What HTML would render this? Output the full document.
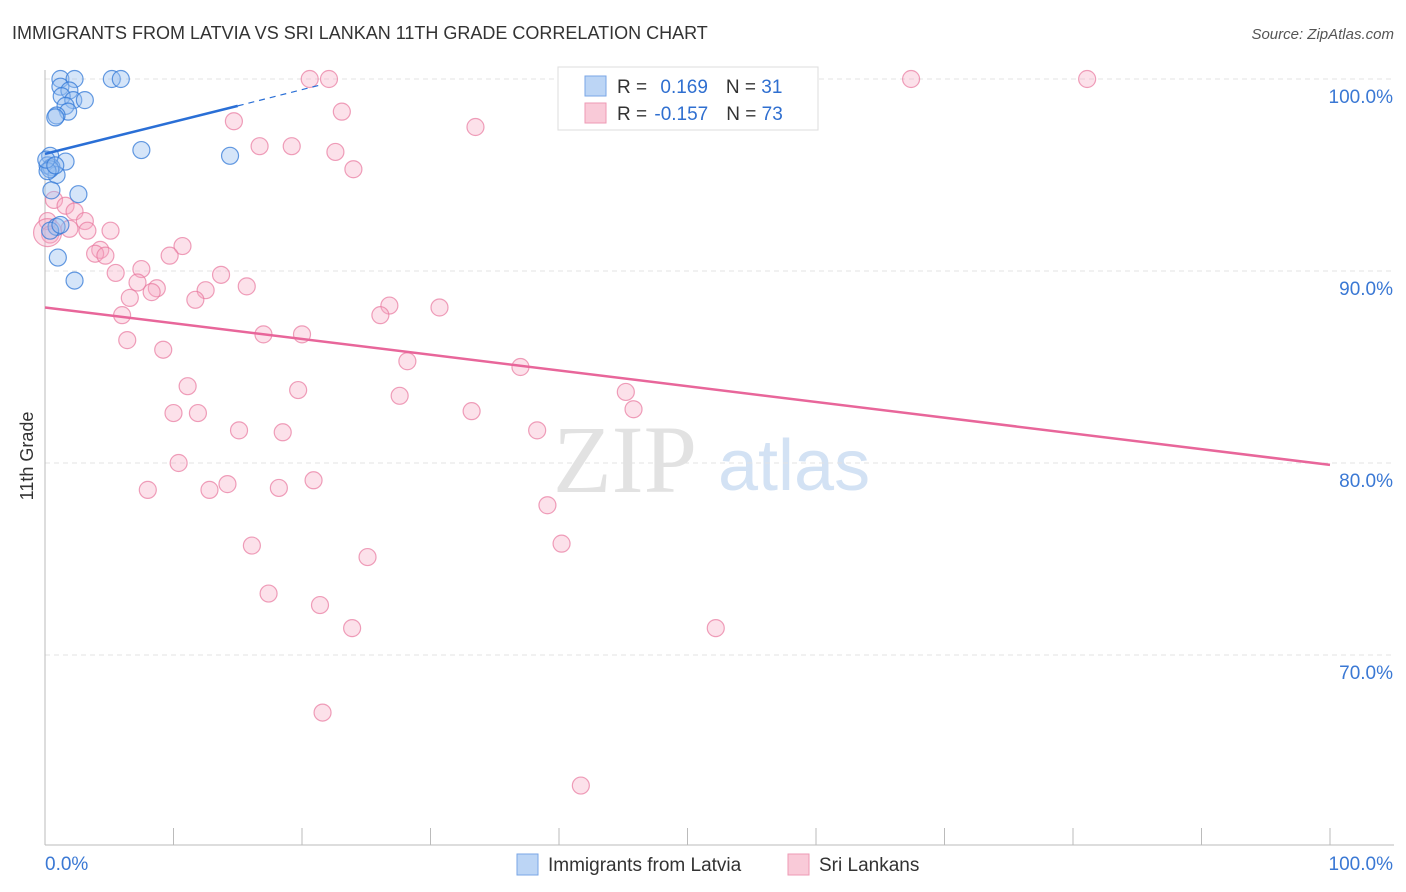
<!DOCTYPE html>
<html><head><meta charset="utf-8"><style>
body{margin:0;background:#fff;font-family:"Liberation Sans",sans-serif;}
#wrap{position:relative;width:1406px;height:892px;overflow:hidden;}
</style></head><body>
<div id="wrap">
<svg id="svg" width="1406" height="892" xmlns="http://www.w3.org/2000/svg">
<text x="12" y="39" font-size="18" fill="#333" font-family="Liberation Sans, sans-serif">IMMIGRANTS FROM LATVIA VS SRI LANKAN 11TH GRADE CORRELATION CHART</text>
<text x="1394" y="39" font-size="15" fill="#555" font-style="italic" text-anchor="end" font-family="Liberation Sans, sans-serif">Source: ZipAtlas.com</text>
<text transform="translate(33,456) rotate(-90)" font-size="18" fill="#333" text-anchor="middle" font-family="Liberation Sans, sans-serif">11th Grade</text>
<g>
<text x="553" y="492" font-size="96" fill="#e2e2e2" font-family="Liberation Serif, serif">ZIP</text>
<text x="718" y="490" font-size="72" fill="#d3e2f4" font-family="Liberation Sans, sans-serif">atlas</text>
</g>
<g id="grid"></g>
<g id="axes"></g>
<g id="pts"></g>
<g id="lines"></g>
<g>
<rect x="558" y="67" width="260" height="63" fill="#fff" stroke="#ddd"/>
<rect x="585" y="76" width="21" height="20" fill="#bcd5f5" stroke="#7aa6e6"/>
<rect x="585" y="103" width="21" height="20" fill="#f9cad8" stroke="#ee9ab4"/>
<text x="617" y="93" font-size="19" fill="#333">R = <tspan fill="#2f6fd0" dx="8">0.169</tspan><tspan dx="18">N = </tspan><tspan fill="#2f6fd0">31</tspan></text>
<text x="617" y="120" font-size="19" fill="#333">R = <tspan fill="#2f6fd0" dx="2">-0.157</tspan><tspan dx="18">N = </tspan><tspan fill="#2f6fd0">73</tspan></text>
</g>
<g>
<rect x="517" y="854" width="21" height="21" fill="#bcd5f5" stroke="#7aa6e6"/>
<text x="548" y="871" font-size="19" fill="#333">Immigrants from Latvia</text>
<rect x="788" y="854" width="21" height="21" fill="#f9cad8" stroke="#ee9ab4"/>
<text x="819" y="871" font-size="19" fill="#333">Sri Lankans</text>
</g>
</svg>
</div>
<script>
const xTicksPct=[0,10,20,30,40,50,60,70,80,90,100];
const yGridVals=[100,90,80,70];
const yTickLabels=["100.0%","90.0%","80.0%","70.0%"];
const xEndLabels=["0.0%","100.0%"];
const latviaX=[1.2,2.3,5.2,5.9,1.2,1.9,1.3,2.2,3.1,1.6,1.8,0.9,0.8,7.5,14.4,0.4,1.6,0.2,0.5,0.9,0.4,0.5,2.6,0.9,0.4,1.0,2.3,0.2,0.1,0.8,1.2];
const latviaY=[100,100,100,100,99.6,99.4,99.1,98.9,98.9,98.6,98.3,98.1,98.0,96.3,96.0,96.0,95.7,95.5,95.4,95.0,95.3,94.2,94.0,92.3,92.1,90.7,89.5,95.2,95.8,95.5,92.4];
const sriX=[20.6,22.1,67.4,81.1,23.1,14.7,33.5,16.7,19.2,22.6,24.0,0.7,1.6,2.3,3.1,0.2,1.9,3.3,5.1,0.4,4.3,3.9,4.7,10.7,9.7,7.5,5.5,13.7,7.2,8.7,8.3,12.5,15.7,6.6,11.7,26.8,26.1,30.7,6.0,17.0,20.0,6.4,9.2,28.2,37.0,11.1,19.7,27.6,45.2,10.0,11.9,33.2,45.8,15.1,18.5,38.3,10.4,20.9,8.0,12.8,14.2,18.2,39.1,16.1,40.2,25.1,17.4,21.4,23.9,52.2,21.6,41.7,0.2];
const sriY=[100,100,100,100,98.3,97.8,97.5,96.5,96.5,96.2,95.3,93.7,93.4,93.1,92.6,92.6,92.2,92.1,92.1,91.9,91.1,90.9,90.8,91.3,90.8,90.1,89.9,89.8,89.4,89.1,88.9,89.0,89.2,88.6,88.5,88.2,87.7,88.1,87.7,86.7,86.7,86.4,85.9,85.3,85.0,84.0,83.8,83.5,83.7,82.6,82.6,82.7,82.8,81.7,81.6,81.7,80.0,79.1,78.6,78.6,78.9,78.7,77.8,75.7,75.8,75.1,73.2,72.6,71.4,71.4,67.0,63.2,92.0];
const latviaTrend=[0,96.1,15,98.6,21.5,99.7];
const sriTrend=[0,88.1,100,79.9];

const NS="http://www.w3.org/2000/svg";
const X0=45,X1=1330,Y100=79,PX10=19.2;
const xs=v=>X0+(X1-X0)*v/100;
const ys=v=>Y100+(100-v)*PX10;
function mk(tag,attrs,parent){const e=document.createElementNS(NS,tag);for(const k in attrs)e.setAttribute(k,attrs[k]);parent.appendChild(e);return e;}
const grid=document.getElementById('grid'),axes=document.getElementById('axes'),pts=document.getElementById('pts'),lines=document.getElementById('lines');
yGridVals.forEach((v,i)=>{
 const l=mk('line',{x1:X0,x2:1394,y1:ys(v),y2:ys(v),stroke:'#e3e3e3','stroke-dasharray':'5,4'},grid);
 
 
 const t=mk('text',{x:1393,y:ys(v)+24,'font-size':19,fill:'#3a78d4','text-anchor':'end'},grid);
 t.textContent=yTickLabels[i];
 
 
});
const ya=mk('line',{x1:X0,x2:X0,y1:70,y2:845,stroke:'#bbb'},axes);


const xa=mk('line',{x1:X0,x2:1394,y1:845,y2:845,stroke:'#bbb'},axes);


xTicksPct.forEach(v=>{
 const t=mk('line',{x1:xs(v),x2:xs(v),y1:828,y2:845,stroke:'#bbb'},axes);
 
 
});
[[0,'start',45],[100,'end',1393]].forEach((a,i)=>{
 const t=mk('text',{x:a[2],y:870,'font-size':19,fill:'#3a78d4','text-anchor':a[1]},axes);
 t.textContent=xEndLabels[i];
 
 
});
sriX.forEach((x,i)=>{
 const big=(i===sriX.length-1);
 const c=mk('circle',{cx:xs(x),cy:ys(sriY[i]),r:big?14:8.5,fill:'rgba(246,170,196,0.35)',stroke:'rgba(232,120,158,0.7)','stroke-width':1.2},pts);
 
 
});
latviaX.forEach((x,i)=>{
 const c=mk('circle',{cx:xs(x),cy:ys(latviaY[i]),r:8.5,fill:'rgba(150,190,240,0.4)',stroke:'rgba(50,120,215,0.75)','stroke-width':1.2},pts);
 
 
});
const bl=mk('line',{x1:xs(latviaTrend[0]),y1:ys(latviaTrend[1]),x2:xs(latviaTrend[2]),y2:ys(latviaTrend[3]),stroke:'#2a6fd6','stroke-width':2.5},lines);


const bd=mk('line',{x1:xs(latviaTrend[2]),y1:ys(latviaTrend[3]),x2:xs(latviaTrend[4]),y2:ys(latviaTrend[5]),stroke:'#2a6fd6','stroke-width':1.2,'stroke-dasharray':'6,5'},lines);


const pl=mk('line',{x1:xs(sriTrend[0]),y1:ys(sriTrend[1]),x2:xs(sriTrend[2]),y2:ys(sriTrend[3]),stroke:'#e8669a','stroke-width':2.5},lines);


</script>
</body></html>
